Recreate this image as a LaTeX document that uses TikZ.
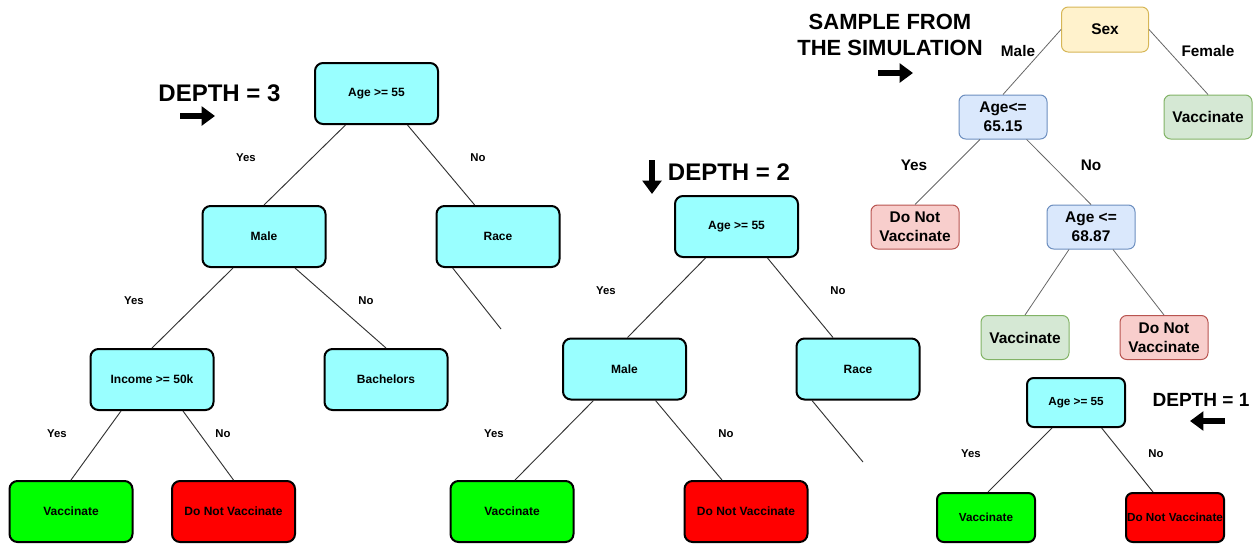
\documentclass[tikz,border=0pt]{standalone}
\usepackage{fontspec}
\setmainfont{Liberation Sans}
\usetikzlibrary{arrows.meta}
\definecolor{cyanbox}{HTML}{99FFFF}
\definecolor{greenbox}{HTML}{00FF00}
\definecolor{redbox}{HTML}{FF0000}
\definecolor{sexfill}{HTML}{FFF2CC}
\definecolor{sexdraw}{HTML}{D6B656}
\definecolor{bluefill}{HTML}{DAE8FC}
\definecolor{bluedraw}{HTML}{6C8EBF}
\definecolor{gfill}{HTML}{D5E8D4}
\definecolor{gdraw}{HTML}{82B366}
\definecolor{rfill}{HTML}{F8CECC}
\definecolor{rdraw}{HTML}{B85450}
\definecolor{edgegray}{HTML}{333333}
\definecolor{sedgegray}{HTML}{666666}
\begin{document}
\begin{tikzpicture}[x=0.75pt,y=-0.75pt,
  bigbox/.style={draw=black,line width=1.5pt,rounded corners=6pt,minimum width=92.25pt,minimum height=45.75pt,inner sep=0pt,font=\bfseries\fontsize{9}{11}\selectfont},
  smallbox/.style={draw=black,line width=1.5pt,rounded corners=5pt,minimum width=73.5pt,minimum height=36.75pt,inner sep=0pt,font=\bfseries\fontsize{8.8}{11}\selectfont},
  cyanfill/.style={fill=cyanbox},
  vacfill/.style={fill=greenbox},
  dnvfill/.style={fill=redbox},
  sbox/.style={line width=0.75pt,rounded corners=5pt,minimum width=66pt,minimum height=33pt,inner sep=0pt,align=center,font=\bfseries\fontsize{11.6}{14.5}\selectfont},
  edge/.style={draw=edgegray,line width=0.7pt},
  sedge/.style={draw=sedgegray,line width=0.6pt},
  lbl/.style={font=\bfseries\fontsize{8.5}{10}\selectfont},
  slbl/.style={font=\bfseries\fontsize{11.5}{14}\selectfont},
  bigtxt/.style={font=\bfseries\fontsize{18}{20}\selectfont},
  fat/.style={line width=4pt,-{Triangle[length=10pt,width=14pt]}}
]
\useasboundingbox (0,0) rectangle (1256,544);

% ---------- Depth 3 tree ----------
\node[bigbox,cyanfill] (r3) at (376.5,93.5) {Age >= 55};
\node[bigbox,cyanfill] (m3) at (264,236.5) {Male};
\node[bigbox,cyanfill] (race3) at (498,236.5) {Race};
\node[bigbox,cyanfill] (inc3) at (152,379.5) {Income >= 50k};
\node[bigbox,cyanfill] (bach3) at (386,379.5) {Bachelors};
\node[bigbox,vacfill] (v3) at (71,511.5) {Vaccinate};
\node[bigbox,dnvfill] (dnv3) at (233.5,511.5) {Do Not Vaccinate};
\coordinate (race3end) at (501,329);

\draw[edge] ([xshift=-23.25pt]r3.south) -- (m3.north);
\draw[edge] ([xshift=23.25pt]r3.south) -- ([xshift=-17.5pt]race3.north);
\draw[edge] ([xshift=-34pt]race3.south) -- (race3end);
\draw[edge] ([xshift=-23.25pt]m3.south) -- (inc3.north);
\draw[edge] ([xshift=23.25pt]m3.south) -- (bach3.north);
\draw[edge] ([xshift=-23.25pt]inc3.south) -- (v3.north);
\draw[edge] ([xshift=23.25pt]inc3.south) -- (dnv3.north);

\node[lbl] (y3a) at (246,158) {Yes};
\node[lbl] (n3a) at (478,158) {No};
\node[lbl] (y3b) at (134,301) {Yes};
\node[lbl] (n3b) at (366,301) {No};
\node[lbl] (y3c) at (57,434) {Yes};
\node[lbl] (n3c) at (223,434) {No};

\node[bigtxt] (d3) at (219.5,93) {DEPTH = 3};
\coordinate (a3s) at (180,116);
\coordinate (a3e) at (215,116);
\draw[fat] (a3s) -- (a3e);

% ---------- Depth 2 tree ----------
\node[bigbox,cyanfill] (r2) at (736.5,226.5) {Age >= 55};
\node[bigbox,cyanfill] (m2) at (624.5,369) {Male};
\node[bigbox,cyanfill] (race2) at (858,369) {Race};
\node[bigbox,vacfill] (v2) at (512,511.5) {Vaccinate};
\node[bigbox,dnvfill] (dnv2) at (746,511.5) {Do Not Vaccinate};
\coordinate (race2end) at (863,462);

\draw[edge] ([xshift=-23.25pt]r2.south) -- ([xshift=2.25pt]m2.north);
\draw[edge] ([xshift=23.25pt]r2.south) -- ([xshift=-18.75pt]race2.north);
\draw[edge] ([xshift=-34.5pt]race2.south) -- (race2end);
\draw[edge] ([xshift=-23.25pt]m2.south) -- ([xshift=2.25pt]v2.north);
\draw[edge] ([xshift=23.25pt]m2.south) -- ([xshift=-18pt]dnv2.north);

\node[lbl] (y2a) at (606,291) {Yes};
\node[lbl] (n2a) at (838,291) {No};
\node[lbl] (y2b) at (494,434) {Yes};
\node[lbl] (n2b) at (726,434) {No};

\node[bigtxt] (d2) at (729,172) {DEPTH = 2};
\coordinate (a2s) at (652,160);
\coordinate (a2e) at (652,194);
\draw[fat] (a2s) -- (a2e);

% ---------- Depth 1 tree ----------
\node[smallbox,cyanfill] (r1) at (1076,402.5) {Age >= 55};
\node[smallbox,vacfill] (v1) at (986,517.5) {Vaccinate};
\node[smallbox,dnvfill] (dnv1) at (1175,517.5) {Do Not Vaccinate};

\draw[edge] ([xshift=-18pt]r1.south) -- ([xshift=1.5pt]v1.north);
\draw[edge] ([xshift=19.25pt]r1.south) -- ([xshift=-16.5pt]dnv1.north);

\node[lbl] (y1) at (971,454) {Yes};
\node[lbl] (n1) at (1156,454) {No};

\node[bigtxt,font=\bfseries\fontsize{14.3}{16}\selectfont] (d1) at (1201,400) {DEPTH = 1};
\coordinate (a1s) at (1225,421);
\coordinate (a1e) at (1190,421);
\draw[fat] (a1s) -- (a1e);

% ---------- Sample tree ----------
\node[sbox,draw=sexdraw,fill=sexfill,minimum width=65.25pt,minimum height=33.75pt] (sex) at (1105,29.5) {Sex};
\node[sbox,draw=bluedraw,fill=bluefill] (a65) at (1003,117) {Age<=\\65.15};
\node[sbox,draw=gdraw,fill=gfill] (sv) at (1208,117) {Vaccinate};
\node[sbox,draw=rdraw,fill=rfill] (sdnv) at (915,227) {Do Not\\Vaccinate};
\node[sbox,draw=bluedraw,fill=bluefill] (a68) at (1091,227) {Age <=\\68.87};
\node[sbox,draw=gdraw,fill=gfill] (sv2) at (1025,337.5) {Vaccinate};
\node[sbox,draw=rdraw,fill=rfill] (sdnv2) at (1164,337.5) {Do Not\\Vaccinate};

\draw[sedge] (sex.west) -- (a65.north);
\draw[sedge] (sex.east) -- (sv.north);
\draw[sedge] ([xshift=-17.25pt]a65.south) -- (sdnv.north);
\draw[sedge] ([xshift=17.75pt]a65.south) -- (a68.north);
\draw[sedge] ([xshift=-16.5pt]a68.south) -- (sv2.north);
\draw[sedge] ([xshift=16.5pt]a68.south) -- (sdnv2.north);

\node[slbl] (smale) at (1018,51) {Male};
\node[slbl] (sfemale) at (1208,51) {Female};
\node[slbl] (syes) at (914,165) {Yes};
\node[slbl] (sno) at (1091,165) {No};

\node[bigtxt,align=center,font=\bfseries\fontsize{16.5}{19.5}\selectfont] (samp) at (890,35) {SAMPLE FROM\\THE SIMULATION};
\coordinate (sas) at (878,73);
\coordinate (sae) at (913,73);
\draw[fat] (sas) -- (sae);
\end{tikzpicture}
\end{document}
